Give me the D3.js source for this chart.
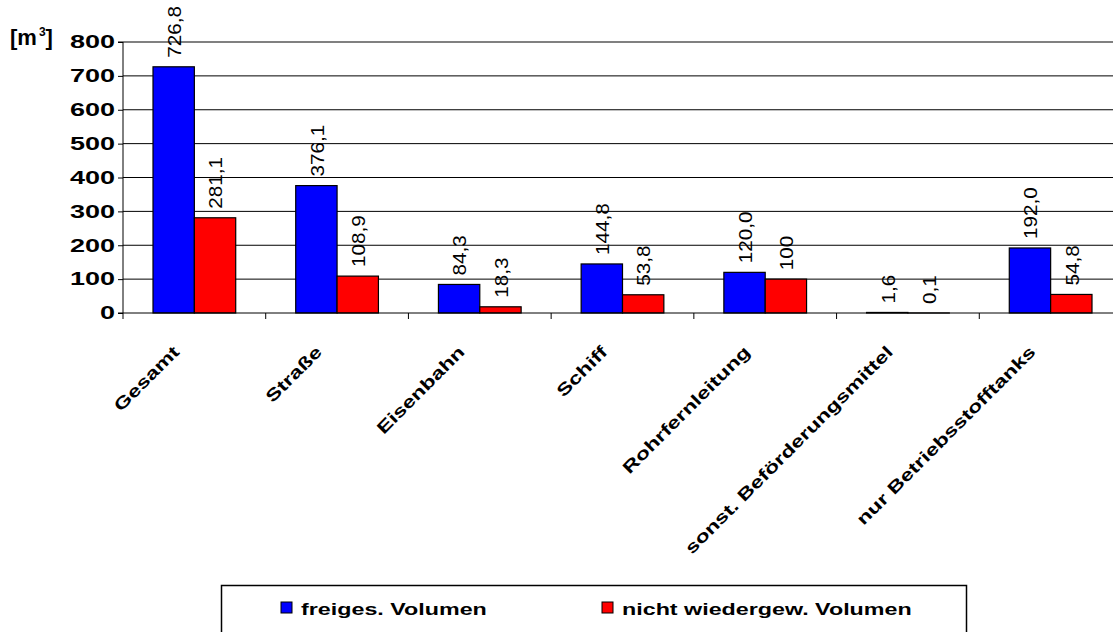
<!DOCTYPE html>
<html lang="de">
<head>
<meta charset="UTF-8">
<title>Volumen</title>
<script src="https://d3js.org/d3.v7.min.js"></script>
<style>
  body { margin: 0; background: #fff; font-family: Arial, 'Liberation Sans', sans-serif; }
  svg text { font-family: Arial, 'Liberation Sans', sans-serif; }
</style>
</head>
<body>
<script>
// data
const categories = ["Gesamt", "Straße", "Eisenbahn", "Schiff", "Rohrfernleitung", "sonst. Beförderungsmittel", "nur Betriebsstofftanks"];
const freiges = [726.8, 376.1, 84.3, 144.8, 120.0, 1.6, 192.0];
const nichtWieder = [281.1, 108.9, 18.3, 53.8, 100, 0.1, 54.8];
const freigesLabels = ["726,8", "376,1", "84,3", "144,8", "120,0", "1,6", "192,0"];
const nichtLabels = ["281,1", "108,9", "18,3", "53,8", "100", "0,1", "54,8"];
const seriesNames = ["freiges. Volumen", "nicht wiedergew. Volumen"];
const colors = ["#0000ff", "#ff0000"];
const yTicks = [0, 100, 200, 300, 400, 500, 600, 700, 800];

const width = 1113, height = 632;
const svg = d3.select("body").append("svg").attr("width", width).attr("height", height);

const x = d3.scaleBand().domain(categories).range([123, 1122]);
const y = d3.scaleLinear().domain([0, 800]).range([313, 42]);
const inner = d3.scaleBand().domain([0, 1]).range([30, x.bandwidth() - 30]);

// gridlines
svg.selectAll(".grid").data(yTicks.filter(t => t > 0)).enter().append("line")
  .attr("x1", 123).attr("x2", width)
  .attr("y1", d => y(d)).attr("y2", d => y(d))
  .attr("stroke", d => d === 800 ? "#808080" : "#000")
  .attr("stroke-width", d => d === 800 ? 2 : 1);

// bars
const rows = categories.map((c, i) => ({ c, vals: [freiges[i], nichtWieder[i]], labs: [freigesLabels[i], nichtLabels[i]] }));
const groups = svg.selectAll(".g").data(rows).enter().append("g")
  .attr("transform", d => `translate(${x(d.c)},0)`);

groups.selectAll("rect").data(d => d.vals.map((v, k) => ({ v, k }))).enter().append("rect")
  .attr("x", d => inner(d.k))
  .attr("width", inner.bandwidth())
  .attr("y", d => y(d.v))
  .attr("height", d => y(0) - y(d.v))
  .attr("fill", d => colors[d.k])
  .attr("stroke", "#000").attr("stroke-width", 1.2);

groups.selectAll(".val").data(d => d.vals.map((v, k) => ({ v, k, t: d.labs[k] }))).enter().append("text")
  .attr("transform", d => `translate(${inner(d.k) + inner.bandwidth() / 2 + 1},${y(d.v) - 9}) rotate(-90) scale(1.15,1)`)
  .attr("dy", "0.35em")
  .attr("text-anchor", "start")
  .style("font-size", "18px")
  .text(d => d.t);

// y axis
const yAxis = svg.append("g").attr("transform", "translate(123,0)")
  .call(d3.axisLeft(y).tickValues(yTicks).tickSize(5).tickPadding(5).tickFormat(d3.format("d")));
yAxis.select(".domain").attr("stroke", "#000").attr("d", `M-5,${y(800)}H0V${y(0)}H-5`);
yAxis.selectAll("text").attr("x", 0).attr("transform", "translate(-8,0) scale(1.5,1)")
  .style("font-size", "18px").style("font-weight", "bold").attr("fill", "#000");
yAxis.selectAll("line").attr("stroke", "#000");

// x axis baseline + ticks
svg.append("line").attr("x1", 123).attr("x2", width).attr("y1", y(0)).attr("y2", y(0)).attr("stroke", "#000");
svg.selectAll(".xt").data(categories).enter().append("line")
  .attr("x1", d => x(d)).attr("x2", d => x(d))
  .attr("y1", y(0)).attr("y2", y(0) + 6).attr("stroke", "#000");

svg.selectAll(".xl").data(categories).enter().append("text")
  .attr("transform", d => `translate(${x(d) + x.bandwidth() / 2 - 14},353) rotate(-45) scale(1.35,1)`)
  .attr("text-anchor", "end")
  .style("font-size", "17px").style("font-weight", "bold")
  .text(d => d);

// unit label
const unit = svg.append("text").attr("x", 10).attr("y", 45).style("font-size", "22px").style("font-weight", "bold");
unit.append("tspan").text("[m");
unit.append("tspan").attr("dy", -9).attr("dx", 2).style("font-size", "12px").text("3");
unit.append("tspan").attr("dy", 9).text("]");

// legend
const legend = svg.append("g");
legend.append("rect").attr("x", 221.5).attr("y", 585.5).attr("width", 745).attr("height", 50)
  .attr("fill", "#fff").attr("stroke", "#000").attr("stroke-width", 1.5);
const legX = d3.scalePoint().domain(seriesNames).range([281, 602]);
const items = legend.selectAll(".li").data(seriesNames).enter().append("g")
  .attr("transform", d => `translate(${legX(d)},602)`);
items.append("rect").attr("width", 11).attr("height", 11)
  .attr("fill", (d, i) => colors[i]).attr("stroke", "#000").attr("stroke-width", 1);
items.append("text").attr("transform", "translate(20,13) scale(1.37,1)")
  .style("font-size", "17px").style("font-weight", "bold")
  .text(d => d);
</script>
</body>
</html>
